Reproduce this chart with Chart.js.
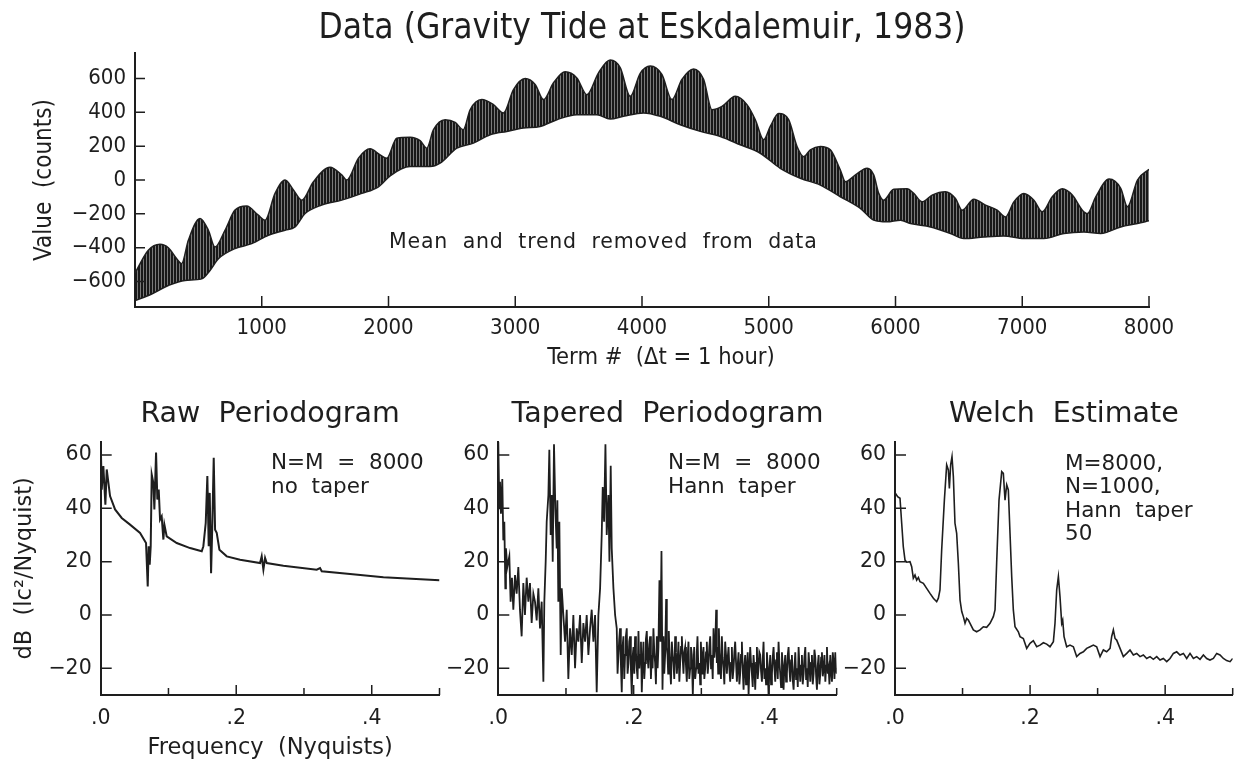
<!DOCTYPE html>
<html>
<head>
<meta charset="utf-8">
<title>Gravity Tide at Eskdalemuir</title>
<script src="https://cdn.jsdelivr.net/npm/chart.js@4.4.0/dist/chart.umd.min.js"></script>
<style>
  body { margin: 0; background: #fff; }
  #wrap { position: relative; width: 1236px; height: 764px; overflow: hidden; }
  #wrap canvas { position: absolute; left: 0; top: 0; }
  .note { position: absolute; font-family: 'DejaVu Sans', sans-serif; font-size: 21.5px; color: #1e1e1e; white-space: pre; }
</style>
</head>
<body>
<div id="wrap">
  <canvas id="tideChart" width="1236" height="764"></canvas>
  <canvas id="rawChart" width="1236" height="764"></canvas>
  <canvas id="taperChart" width="1236" height="764"></canvas>
  <canvas id="welchChart" width="1236" height="764"></canvas>
  <div class="note" style="left:389px; top:230px; font-size:20.5px; line-height:22px; letter-spacing:0.8px;">Mean  and  trend  removed  from  data</div>
  <div class="note" style="left:461px; top:342px; width:400px; text-align:center; font-family:'DejaVu Sans Condensed','DejaVu Sans',sans-serif; font-size:23.5px; line-height:28px;">Term #  (&#916;t = 1 hour)</div>
  <div class="note" style="left:271px; top:449.6px; line-height:24.3px;">N=M  =  8000
no  taper</div>
  <div class="note" style="left:668px; top:449.6px; line-height:24.3px;">N=M  =  8000
Hann  taper</div>
  <div class="note" style="left:1065px; top:451px; line-height:23.4px;">M=8000,
N=1000,
Hann  taper
50</div>
</div>
<script>
// top panel: envelope of the hourly series (upper and lower edge of the band)
const upperTerms = [0,105,197,263,329,368,421,513,579,631,
  710,789,881,973,1026,1105,1184,1250,1316,1408,
  1539,1631,1671,1763,1855,1934,1986,2065,2170,2249,
  2302,2355,2447,2526,2590,2644,2736,2828,2907,2986,
  3078,3157,3223,3302,3394,3486,3565,3657,3749,3828,
  3907,3986,4065,4157,4236,4315,4407,4486,4552,4631,
  4736,4828,4894,4960,5012,5078,5157,5223,5276,5328,
  5407,5486,5565,5605,5684,5776,5828,5868,5907,5986,
  6091,6144,6210,6289,6394,6473,6526,6618,6710,6802,
  6868,6934,7013,7092,7158,7237,7316,7395,7474,7514,
  7580,7685,7777,7830,7909,8000];
const upperValues = [-550,-415,-380,-400,-465,-494,-356,-227,-297,-396,
  -297,-178,-154,-208,-237,-79,0,-59,-119,-10,
  75,30,0,129,184,148,129,247,253,233,
  188,297,356,340,297,415,475,445,396,534,
  599,564,475,574,639,603,504,633,708,663,
  494,630,673,623,475,594,656,594,415,435,
  494,445,356,237,316,392,356,198,138,178,
  198,178,59,-10,30,69,30,-79,-119,-55,
  -52,-79,-129,-89,-69,-109,-178,-113,-148,-178,
  -218,-129,-79,-119,-188,-99,-52,-89,-178,-198,
  -99,6,-49,-158,0,63];
const lowerTerms = [0,132,263,395,526,592,658,789,921,1052,
  1184,1263,1342,1473,1631,1789,1921,2013,2170,2328,
  2407,2539,2670,2802,2933,3065,3196,3328,3486,3644,
  3749,3854,4012,4144,4302,4460,4618,4775,4933,5091,
  5249,5407,5565,5723,5828,5933,6039,6118,6276,6434,
  6539,6697,6855,7013,7171,7329,7487,7619,7777,7909,8000];
const lowerValues = [-712,-673,-623,-593,-584,-534,-465,-405,-376,-326,
  -297,-277,-198,-148,-119,-79,-40,25,79,79,
  99,188,218,267,287,307,316,356,386,386,
  360,376,396,376,326,287,257,208,158,69,
  10,-30,-99,-168,-237,-247,-237,-257,-277,-316,
  -346,-336,-330,-346,-346,-316,-307,-316,-277,-257,-241];
const termTicks = [1000,2000,3000,4000,5000,6000,7000,8000];
const valueTicks = [-600,-400,-200,0,200,400,600];

// spectra, frequency in Nyquists, level in dB
const rawFreq = [0,.0015,.0039,.0069,.0089,.0138,.0212,.031,.0433,.0581,
  .0669,.0694,.0708,.0723,.0738,.0753,.0777,.0792,.0817,.0836,
  .0856,.0876,.09,.0925,.094,.0974,.1122,.1319,.1491,.1515,
  .155,.1574,.1594,.1609,.1629,.1648,.1668,.1688,.1712,.1752,
  .186,.2057,.2352,.2376,.2401,.2426,.245,.2696,.3188,.3237,
  .3262,.368,.4172,.5];
const rawDb = [65.3,47,55.9,41.4,54.6,44.6,39.6,36.4,33.9,30.8,
  27,10.7,25.8,18.9,25.8,52.7,49.6,39.6,60.9,43.3,
  47.1,35.8,37,28.3,33.9,29.5,27,25.1,23.9,25.8,
  34.5,52.1,25.8,45.8,15.7,34.5,59,32,30.8,24.5,
  22,20.7,19.5,22,17,21.4,19.5,18.5,17,17.6,
  16.4,15.4,14.2,13];

const taperFreq = [0,.0015,.0025,.0039,.0059,.0074,.0089,.0104,.0113,.0133,
  .0163,.0182,.0202,.0222,.0247,.0271,.0296,.032,.0345,.037,
  .0394,.0419,.0444,.0468,.0493,.0518,.0542,.0567,.0592,.0616,
  .0641,.0666,.068,.07,.0715,.074,.0754,.0774,.0789,.0804,
  .0823,.0843,.0863,.0873,.0887,.0902,.0922,.0937,.0961,.0986,
  .1011,.1035,.106,.1085,.1109,.1134,.1159,.1183,.1208,.1233,
  .1257,.1282,.1306,.1331,.1356,.138,.1405,.143,.1454,.1479,
  .1504,.1528,.1543,.1563,.1583,.1602,.1627,.1642,.1661,.1676,
  .1701,.1726,
  .175,.1762,.1775,.1787,.1799,.1811,.1824,.1836,.1849,.1861,
  .1873,.1885,.1898,.191,.1923,.1935,.1947,.1959,.1972,.1984,
  .1997,.2009,.2021,.2034,.2046,.2058,.2071,.2083,.2095,.2108,
  .212,.2132,.2145,.2157,.2169,.2181,.2194,.2206,.2218,.2231,
  .2243,.2255,.2268,.228,.2292,.2305,.2317,.2329,.2342,.2354,
  .2366,.2381,.2396,.2411,.2426,.244,.2452,.2465,.248,.249,
  .25,.251,.2519,.2529,.2539,.2551,.2564,.2576,.2588,.26,
  .2613,.2625,.2638,.265,.2662,.2675,.2687,.27,.2712,.2724,
  .2736,.2748,.2761,.2773,.2785,.2797,.281,.2822,.2835,.2847,
  .2859,.2874,.2884,.2894,.2909,.2923,.2933,.2943,.2958,.2973,
  .2983,.2993,.3003,.3012,.3022,.3032,.3044,.3057,.3069,.3081,
  .3094,.3106,.3118,.3131,.3143,.3155,.3168,.318,.3192,.3205,
  .3219,.3229,.3239,.3249,.3259,.3268,.3278,.329,.3303,.3315,
  .3328,.334,.3352,.3365,.3377,.339,.3402,.3414,.3426,.3439,
  .3451,.3463,.3476,.3488,.35,.3513,.3525,.3537,.355,.3562,
  .3574,.3586,.3599,.3611,.3624,.3636,.3648,.366,.3673,.3685,
  .3698,.371,.3722,.3734,.3747,.3759,.3771,.3784,.3796,.3808,
  .3821,.3833,.3845,.3857,.387,.3882,.3895,.3907,.3919,.3932,
  .3944,.3956,.3969,.3981,.3993,.4005,.4018,.403,.4043,.4055,
  .4067,.408,.4092,.4104,.4117,.4129,.4141,.4154,.4166,.4178,
  .4191,.4203,.4215,.4227,.424,.4252,.4264,.4277,.4289,.4301,
  .4314,.4326,.4338,.435,.4363,.4375,.4388,.44,.4412,.4425,
  .4437,.4449,.4462,.4474,.4486,.4498,.4511,.4523,.4536,.4548,
  .456,.4572,.4585,.4597,.461,.4622,.4634,.4646,.4659,.4671,
  .4684,.4696,.4708,.472,.4733,.4745,.4758,.477,.4782,.4794,
  .4807,.4819,.4832,.4844,.4856,.4868,.4881,.4893,.4905,.4917,
  .493,.4942,.4955,.4967,.4979,.499,.5];
const taperDb = [65,40,50,38,51,28,35,10,25,18,
  22,5,14,2,15,8,18,2,-8,12,
  0,14,5,12,-3,8,5,-2,10,-5,
  5,-25,5,20,35,45,62,30,45,20,
  64,40,25,43,5,35,-15,10,0,-10,
  2,-24,-5,-15,0,-20,-5,-10,0,-18,
  -3,-10,0,-15,-5,2,-10,0,-29,0,
  10,30,48,35,64,30,45,20,56,25,
  10,0,
  -5,-22,-15,-9,-5,-18,-29,-12,-8,-24,
  -15,-8,-5,-22,-18,-10,-8,-20,-30,-16,
  -12,-22,-8,-14,-20,-24,-6,-20,-15,-10,
  -29,-18,-10,-24,-18,-9,-6,-16,-20,-11,
  -8,-24,-15,-20,-5,-14,-18,-26,-8,-20,
  -12,13,-10,24,-28,-8,-22,-15,6,-12,
  -15,-22,-6,-14,-20,-26,-10,-15,-18,-24,
  -8,-14,-22,-17,-10,-25,-18,-12,-8,-16,
  -22,-14,-12,-19,-25,-16,-10,-24,-20,-12,
  -15,-30,-20,-12,-24,-20,-14,-8,-22,-18,
  -26,-10,-17,-22,-15,-12,-24,-20,-14,-10,
  -22,-18,-12,-8,-20,-15,-24,-5,-16,-12,
  2,-18,-12,-22,-5,-14,-18,-24,-8,-16,
  -20,-26,-10,-15,-22,-16,-12,-20,-25,-18,
  -12,-24,-20,-14,-10,-18,-25,-19,-14,-26,
  -22,-15,-10,-20,-28,-19,-15,-26,-20,-14,
  -30,-20,-12,-18,-22,-27,-15,-20,-28,-18,
  -12,-24,-20,-14,-15,-21,-25,-17,-10,-24,
  -20,-26,-14,-20,-30,-21,-15,-26,-22,-16,
  -12,-20,-25,-17,-14,-24,-10,-18,-22,-27,
  -14,-20,-28,-19,-15,-25,-22,-15,-12,-20,
  -25,-17,-15,-24,-28,-20,-14,-24,-20,-27,
  -12,-19,-25,-19,-15,-26,-22,-16,-12,-24,
  -20,-27,-14,-19,-25,-18,-15,-26,-22,-13,
  -16,-23,-28,-19,-15,-26,-22,-16,-14,-23,
  -20,-15,-25,-19,-12,-22,-20,-26,-15,-21,
  -25,-14,-18,-24,-14,-20,-22];

const welchFreq = [0,.0039,.0074,.0099,.0123,.0148,.0173,.0222,.0247,.0271,
  .0296,.0321,.0346,.037,.042,.0469,.0518,.0568,.0617,.0642,
  .0666,.0691,.0731,.0765,.079,.0805,.0824,.0844,.0864,.0888,
  .0913,.0938,.0963,.0988,.1012,.1037,.1061,.1086,.1111,.116,
  .1209,.1259,.1308,.1357,.1407,.1456,.1481,.1505,.154,.158,
  .1604,.1629,.1654,.1678,.1703,.1728,.1752,.1777,.1826,.1851,
  .19,.195,.1999,.2048,.2098,.2147,.2197,.2246,.2295,.2345,
  .2369,.2394,.2419,.2443,.2468,.2483,.2503,.2542,.2591,.2641,
  .269,.2739,.2789,.2838,.2888,.2937,.2986,.3036,.3085,.3134,
  .3184,.3208,.3233,.3258,.3282,.3332,.3381,.3431,.348,.3529,
  .3579,.3628,.3677,.3727,.3776,.3825,.3875,.3924,.3973,.4023,
  .4072,.4122,.4171,.422,.427,.4319,.4368,.4418,.4467,.4516,
  .4566,.4615,.4664,.4714,.4763,.4812,.4862,.4911,.4961,.5];
const welchDb = [45.9,44.4,43.8,34.4,25.6,20.6,19.8,20,18.1,13.8,
  15,13.1,14.1,12.5,11.9,10,8.1,6.3,5,6.3,
  9.4,24.4,43.1,56.3,54.4,47.5,56.3,59.4,51.9,34.4,
  30.6,19.4,5.6,1.3,-0.6,-3.1,-1.3,-1.9,-3.1,-5.6,
  -6.3,-5.6,-4.4,-4.6,-3.1,-0.6,1.9,19.4,43.1,53.8,
  53.1,43.1,48.8,46.9,30.6,14.4,1.9,-4.4,-6.3,-8.1,
  -8.8,-12.5,-10.6,-9.6,-11.9,-11.3,-10.4,-10.9,-11.9,-10,
  -3.1,9.4,14.4,6.9,-3.1,-1.9,-8.1,-11.9,-11.3,-11.9,
  -15.6,-14.4,-13.8,-12.5,-11.9,-11.3,-11.9,-15.6,-13.1,-13.8,
  -12.5,-8.1,-5.6,-8.8,-9.4,-12.5,-15.6,-14.4,-13.1,-15,
  -14.4,-15.6,-15,-16.3,-15.6,-16.6,-15.6,-16.9,-16.3,-17.5,
  -16.3,-14.4,-13.8,-15,-14.4,-16.3,-14.4,-16.3,-15.6,-16.6,
  -15,-16.3,-16.9,-16.3,-14.4,-15,-16.3,-17.1,-17.5,-16.3];

const freqLabelTicks = [0, 0.2, 0.4];
const freqLabels = ['.0', '.2', '.4'];
const freqMarks = [0.1, 0.2, 0.3, 0.4, 0.5];
const dbTicks = [60, 40, 20, 0, -20];


const ink = '#1e1e1e';
const narrowFont = "'DejaVu Sans Condensed', 'DejaVu Sans', sans-serif";
const baseFont = "'DejaVu Sans', sans-serif";

function pts(xs, ys) {
    return xs.map(function (x, i) { return { x: x, y: ys[i] }; });
}
function minus(v) {
    return String(v).replace('-', '\u2212');
}

// tick marks point into the plot like in the original
const innerTicks = {
    id: 'innerTicks',
    afterDatasetsDraw(chart, args, opts) {
        if (!opts || !opts.xMarks) return;
        const ctx = chart.ctx, a = chart.chartArea;
        const x = chart.scales.x, y = chart.scales.y;
        ctx.save();
        ctx.strokeStyle = ink;
        ctx.lineWidth = 1.5;
        ctx.beginPath();
        opts.xMarks.forEach(function (v, i) {
            const px = x.getPixelForValue(v);
            const len = opts.xLens ? opts.xLens[i] : opts.xLen;
            ctx.moveTo(px, a.bottom);
            ctx.lineTo(px, a.bottom - len);
        });
        opts.yMarks.forEach(function (v) {
            const py = y.getPixelForValue(v);
            ctx.moveTo(a.left, py);
            ctx.lineTo(a.left + opts.yLen, py);
        });
        ctx.stroke();
        ctx.restore();
    }
};
Chart.register(innerTicks);
Chart.defaults.color = ink;
Chart.defaults.font.family = baseFont;

// striped fill, looks like the dense hourly strokes
const pc = document.createElement('canvas');
pc.width = 3; pc.height = 2;
const pctx = pc.getContext('2d');
pctx.fillStyle = '#181818'; pctx.fillRect(0, 0, 2, 2);
pctx.fillStyle = '#7a7a7a'; pctx.fillRect(2, 0, 1, 2);
const stripes = pctx.createPattern(pc, 'repeat');

new Chart(document.getElementById('tideChart'), {
    type: 'line',
    data: {
        datasets: [
            { data: pts(lowerTerms, lowerValues), borderColor: ink, borderWidth: 1.5, pointRadius: 0, fill: false,
              cubicInterpolationMode: 'monotone' },
            { data: pts(upperTerms, upperValues), borderColor: ink, borderWidth: 1.5, pointRadius: 0, fill: '-1',
              backgroundColor: stripes, cubicInterpolationMode: 'monotone' }
        ]
    },
    options: {
        responsive: false, animation: false, events: [], devicePixelRatio: 1,
        layout: { padding: { left: 0, right: 87, top: 0, bottom: 384 } },
        plugins: {
            legend: { display: false },
            tooltip: { enabled: false },
            title: {
                display: true, text: 'Data (Gravity Tide at Eskdalemuir, 1983)', fullSize: false,
                font: { family: narrowFont, size: 35, weight: 'normal' }, color: ink,
                padding: { top: 8, bottom: 3 }
            },
            innerTicks: { xMarks: termTicks, xLen: 11, yMarks: valueTicks, yLen: 10 }
        },
        scales: {
            x: {
                type: 'linear', min: 0, max: 8000,
                afterBuildTicks: function (s) { s.ticks = termTicks.map(function (v) { return { value: v }; }); },
                afterFit: function (s) { s.height = 73; },
                ticks: { font: { family: narrowFont, size: 22 }, padding: 8, maxRotation: 0, autoSkip: false,
                    callback: function (v, i) { return String(termTicks[i]); } },
                grid: { display: false, drawTicks: false },
                border: { display: true, color: ink, width: 2 }
            },
            y: {
                min: -750, max: 750,
                afterBuildTicks: function (s) { s.ticks = valueTicks.map(function (v) { return { value: v }; }); },
                afterFit: function (s) { s.width = 135; },
                ticks: { font: { family: narrowFont, size: 22 }, padding: 9, autoSkip: false,
                    callback: function (v) { return minus(v); } },
                grid: { display: false, drawTicks: false },
                border: { display: true, color: ink, width: 2 },
                title: { display: true, text: 'Value  (counts)', font: { family: narrowFont, size: 24 }, padding: { top: 30.6, bottom: 0 } }
            }
        }
    }
});

function spectrum(id, freq, db, o) {
    return new Chart(document.getElementById(id), {
        type: 'line',
        data: {
            datasets: [{ data: pts(freq, db), borderColor: ink, borderWidth: o.lw, pointRadius: 0, fill: false }]
        },
        options: {
            responsive: false, animation: false, events: [], devicePixelRatio: 1,
            layout: { padding: { left: o.left - o.yw, right: 1236 - o.right, top: 0, bottom: 0 } },
            plugins: {
                legend: { display: false },
                tooltip: { enabled: false },
                title: {
                    display: true, text: o.title, fullSize: false,
                    font: { family: baseFont, size: 28.5, weight: 'normal' }, color: ink,
                    padding: { top: 397.7, bottom: 9.8 }
                },
                innerTicks: { xMarks: freqMarks, xLens: [7, 10, 7, 10, 7], yMarks: dbTicks, yLen: 11 }
            },
            scales: {
                x: {
                    type: 'linear', min: 0, max: 0.5,
                    afterBuildTicks: function (s) { s.ticks = freqLabelTicks.map(function (v) { return { value: v }; }); },
                    afterFit: function (s) { s.height = 69; },
                    ticks: { font: { size: 20.5 }, padding: 11, maxRotation: 0, autoSkip: false,
                        callback: function (v, i) { return freqLabels[i]; } },
                    grid: { display: false, drawTicks: false },
                    border: { display: true, color: ink, width: 2 },
                    title: { display: !!o.xTitle, text: o.xTitle || '', font: { size: 22.5 }, padding: { top: 0, bottom: 2.5 } }
                },
                y: {
                    min: -30, max: 65,
                    afterBuildTicks: function (s) { s.ticks = dbTicks.map(function (v) { return { value: v }; }); },
                    afterFit: function (s) { s.width = o.yw; },
                    ticks: { font: { size: 20.5 }, padding: 9, autoSkip: false,
                        callback: function (v) { return minus(v); } },
                    grid: { display: false, drawTicks: false },
                    border: { display: true, color: ink, width: 2 },
                    title: { display: !!o.yTitle, text: o.yTitle || '', font: { size: 22.5 }, padding: { top: 11.5, bottom: 0 } }
                }
            }
        }
    });
}

spectrum('rawChart', rawFreq, rawDb, {
    title: 'Raw  Periodogram', left: 100.7, right: 439.5, yw: 100.7, lw: 2,
    xTitle: 'Frequency  (Nyquists)', yTitle: 'dB  (lc\u00b2/Nyquist)'
});
spectrum('taperChart', taperFreq, taperDb, {
    title: 'Tapered  Periodogram', left: 498.3, right: 836.7, yw: 60, lw: 1.8
});
spectrum('welchChart', welchFreq, welchDb, {
    title: 'Welch  Estimate', left: 895, right: 1232.7, yw: 60, lw: 1.6
});
</script>
</body>
</html>
